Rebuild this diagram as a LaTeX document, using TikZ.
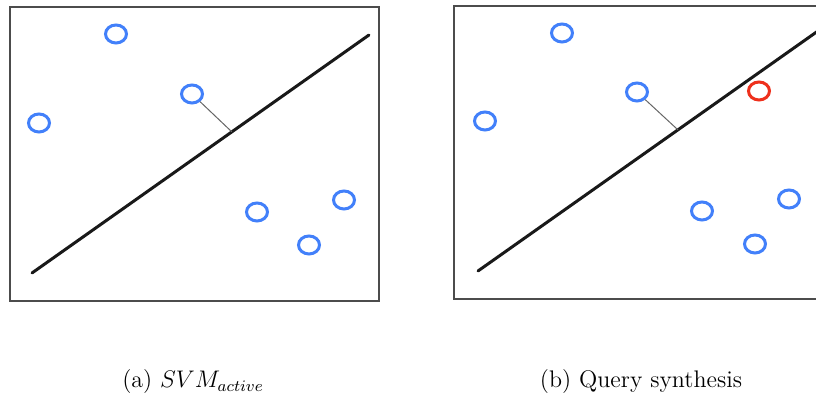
\documentclass[tikz,border=0pt]{standalone}
\usepackage{tikz}
\usetikzlibrary{shapes.geometric, calc}
\definecolor{ptblue}{RGB}{66,128,250}
\definecolor{ptred}{RGB}{238,48,28}
\begin{document}
\begin{tikzpicture}[x=0.5pt, y=-0.5pt,
		frame/.style={draw=black!70, line width=1.4pt},
		hyper/.style={draw=black!90, line width=1.5pt, line cap=round},
		pt/.style={ellipse, draw=ptblue, line width=1.5pt, minimum width=10.5pt, minimum height=9pt, inner sep=0pt},
		query/.style={pt, draw=ptred},
		perp/.style={draw=black!60, line width=0.5pt},
		caption/.style={font=\large, anchor=base},
		]
		\clip (0,0) rectangle (816,394);

		% (a) SVM active
		\draw[frame] (10,7) rectangle (379,301);
		\coordinate (la1) at (32,273);
		\coordinate (la2) at (369,35);
		\draw[hyper] (la1) -- (la2);
		\node[pt] (a1) at (116,34) {};
		\node[pt] (a2) at (192,94) {};
		\node[pt] (a3) at (39,123) {};
		\node[pt] (a4) at (257,212) {};
		\node[pt] (a5) at (344,200) {};
		\node[pt] (a6) at (309,245) {};
		\coordinate (fa) at ($(la1)!0.593!(la2)$);
		\draw[perp] (a2) -- (fa);

		% (b) Query synthesis
		\draw[frame] (454,6) rectangle (830,299);
		\coordinate (lb1) at (478,271);
		\coordinate (lb2) at (830,22.5);
		\draw[hyper] (lb1) -- (lb2);
		\node[pt] (b1) at (562,33) {};
		\node[pt] (b2) at (637,92) {};
		\node[pt] (b3) at (485,121) {};
		\node[pt] (b4) at (702,211) {};
		\node[pt] (b5) at (789,199) {};
		\node[pt] (b6) at (755,244) {};
		\node[query] (q) at (759,91) {};
		\coordinate (fb) at ($(lb1)!0.568!(lb2)$);
		\draw[perp] (b2) -- (fb);

		% Captions
		\node[caption] (capa) at (193,388) {(a) $SVM_{active}$};
		\node[caption] (capb) at (641,388) {(b) Query synthesis};
	\end{tikzpicture}
\end{document}
